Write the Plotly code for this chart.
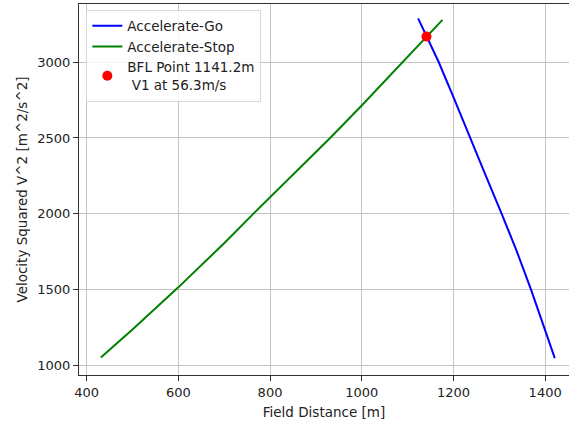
import plotly.graph_objects as go

# Accelerate-Go curve
go_distance = [1123, 1141.2, 1168, 1200, 1236, 1270, 1305, 1338, 1369, 1396, 1421]
go_v2 = [3290, 3170, 3000, 2770, 2500, 2255, 2000, 1752, 1500, 1270, 1045]

# Accelerate-Stop curve
stop_distance = [431, 500, 600, 700, 764, 850, 931, 1000, 1092, 1141.2, 1176]
stop_v2 = [1050, 1235, 1513, 1805, 2000, 2258, 2500, 2714, 3010, 3168, 3280]

# Balanced field length point
bfl_distance = [1141.2]
bfl_v2 = [3169.7]
bfl_label = "BFL Point 1141.2m<br>\u00a0V1 at 56.3m/s"

x_ticks = [400, 600, 800, 1000, 1200, 1400]
y_ticks = [1000, 1500, 2000, 2500, 3000]

FONT = "DejaVu Sans, Liberation Sans, sans-serif"

fig = go.Figure()
fig.add_trace(go.Scatter(x=go_distance, y=go_v2, mode="lines", name="Accelerate-Go",
                         line=dict(color="#0000ff", width=2)))
fig.add_trace(go.Scatter(x=stop_distance, y=stop_v2, mode="lines", name="Accelerate-Stop",
                         line=dict(color="#008000", width=2)))
fig.add_trace(go.Scatter(x=bfl_distance, y=bfl_v2, mode="markers", name=bfl_label,
                         marker=dict(color="#ff0000", size=10)))

axis_common = dict(
    showgrid=True, gridcolor="#c4c4c4", gridwidth=1,
    showline=True, linecolor="#333333", linewidth=1.2,
    ticks="outside", ticklen=5, tickwidth=1, tickcolor="#333333",
    tickfont=dict(family=FONT, size=13, color="#222222"),
    zeroline=False, automargin=False,
)

fig.update_layout(
    width=569, height=425,
    margin=dict(l=79, r=0, t=4, b=50),
    paper_bgcolor="white", plot_bgcolor="white",
    font=dict(family=FONT, size=13, color="#222222"),
    xaxis=dict(range=[383.4, 1452], tickvals=x_ticks, mirror=True,
               title=dict(text="Field Distance [m]", font=dict(family=FONT, size=13.5), standoff=8),
               **axis_common),
    yaxis=dict(range=[934, 3385], tickvals=y_ticks, mirror=False,
               title=dict(text="Velocity Squared V^2 [m^2/s^2]", font=dict(family=FONT, size=13.5), standoff=6),
               **axis_common),
    legend=dict(x=0.015, y=0.985, xanchor="left", yanchor="top",
                bgcolor="rgba(255,255,255,0.85)", bordercolor="#d8d8d8", borderwidth=1,
                font=dict(family=FONT, size=13.5, color="#222222"),
                itemwidth=30, tracegroupgap=0),
    showlegend=True,
)

fig.write_html("out.html", config={"displayModeBar": False},
               post_script="document.body.style.margin='0';document.body.style.overflow='hidden';")
